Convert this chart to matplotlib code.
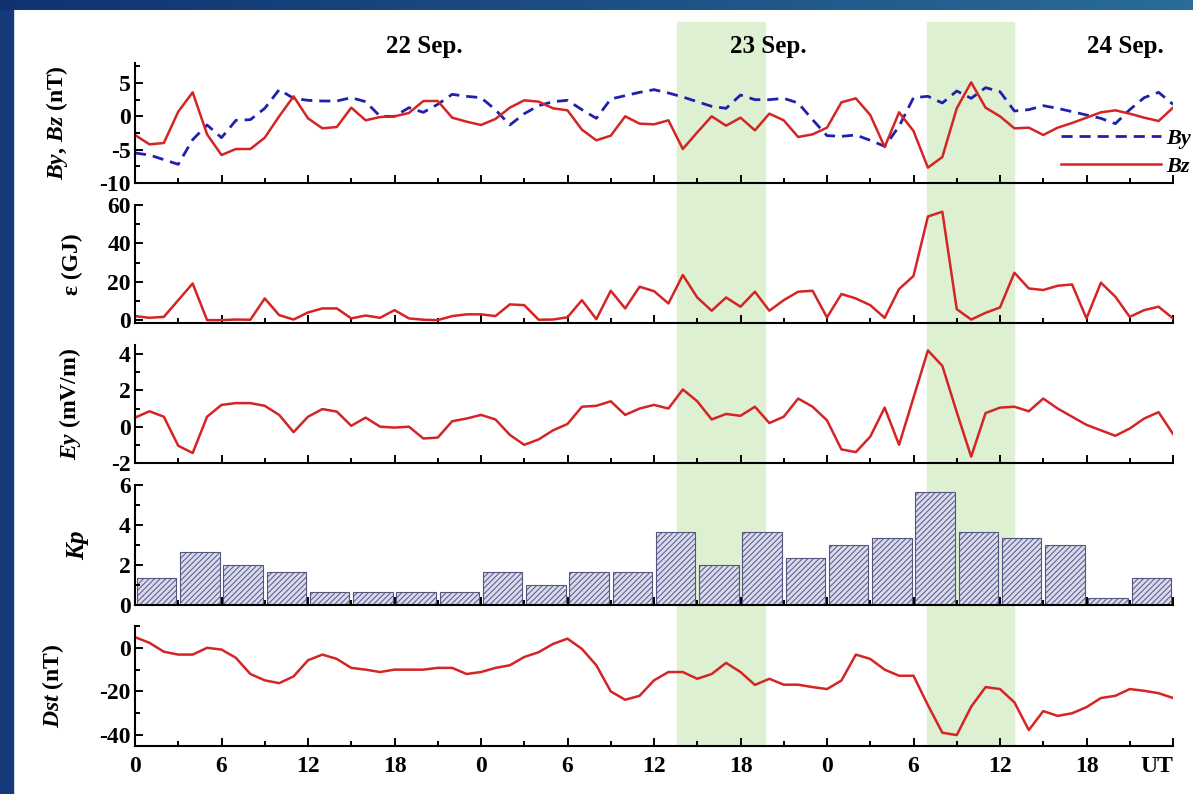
import numpy as np
import matplotlib
matplotlib.use("Agg")
import matplotlib.pyplot as plt
from matplotlib.patches import Rectangle
from matplotlib.ticker import MultipleLocator
import matplotlib.transforms as mtransforms

plt.rcParams['font.family'] = 'Liberation Serif'
plt.rcParams['font.weight'] = 'bold'
plt.rcParams['axes.labelweight'] = 'bold'
plt.rcParams['axes.unicode_minus'] = False
plt.rcParams['mathtext.fontset'] = 'custom'
plt.rcParams['mathtext.rm'] = 'Liberation Serif:bold'
plt.rcParams['mathtext.it'] = 'Liberation Serif:italic:bold'
plt.rcParams['hatch.color'] = '#7a7aa0'
plt.rcParams['hatch.linewidth'] = 0.7

# hourly time axis, 22 Sep 00 UT .. 25 Sep 00 UT
hours = np.arange(73)

by = [-5.5, -5.8, -6.5, -7.2, -3.5, -1.3, -3.2, -0.6, -0.5, 1.2,
      4.0, 2.7, 2.4, 2.3, 2.3, 2.8, 2.2, 0.0, 0.0, 1.3,
      0.6, 1.8, 3.3, 3.0, 2.8, 1.0, -1.3, 0.4, 1.6, 2.2,
      2.4, 1.0, -0.3, 2.6, 3.1, 3.6, 4.0, 3.5, 2.9, 2.2,
      1.5, 1.2, 3.2, 2.5, 2.5, 2.7, 2.0, -0.5, -2.9, -3.0,
      -2.8, -3.6, -4.5, -1.5, 2.8, 3.0, 2.0, 3.8, 2.7, 4.3,
      3.7, 0.8, 1.0, 1.6, 1.2, 0.7, 0.2, -0.3, -1.1, 1.0,
      2.8, 3.6, 1.8]

bz = [-2.8, -4.2, -4.0, 0.7, 3.6, -2.7, -5.8, -4.9, -4.9, -3.2,
      0.0, 3.0, -0.3, -1.8, -1.6, 1.3, -0.6, -0.1, 0.0, 0.5,
      2.3, 2.3, -0.2, -0.8, -1.3, -0.4, 1.3, 2.4, 2.2, 1.2,
      0.9, -2.0, -3.6, -2.9, 0.0, -1.1, -1.2, -0.6, -4.9, -2.4,
      0.0, -1.4, -0.2, -2.1, 0.4, -0.6, -3.1, -2.7, -1.7, 2.1,
      2.7, 0.2, -4.6, 0.6, -2.2, -7.7, -6.1, 1.2, 5.1, 1.3,
      0.0, -1.8, -1.7, -2.8, -1.7, -1.0, -0.2, 0.6, 0.9, 0.4,
      -0.2, -0.7, 1.3]

eps = [2.1, 1.2, 1.7, 10.4, 19.1, 0.0, 0.0, 0.3, 0.2, 11.3,
       2.6, 0.3, 4.0, 6.1, 6.1, 0.9, 2.4, 1.2, 5.2, 0.9,
       0.2, 0.0, 2.1, 3.0, 3.0, 2.1, 8.2, 7.8, 0.2, 0.3,
       1.5, 10.4, 0.5, 15.3, 6.1, 17.4, 15.1, 8.7, 23.5, 11.8,
       4.9, 11.8, 7.0, 14.8, 4.9, 10.4, 14.8, 15.3, 1.4, 13.6,
       11.3, 7.8, 1.2, 16.2, 23.0, 54.0, 56.5, 5.7, 0.3, 3.8,
       6.6, 24.7, 16.5, 15.7, 17.9, 18.6, 0.9, 19.5, 12.2, 1.7,
       5.2, 7.0, 0.9]

ey = [0.5, 0.85, 0.55, -1.05, -1.45, 0.55, 1.2, 1.3, 1.3, 1.15,
      0.65, -0.3, 0.55, 0.97, 0.83, 0.05, 0.5, 0.0, -0.05, 0.0,
      -0.65, -0.6, 0.3, 0.45, 0.65, 0.4, -0.45, -1.0, -0.7, -0.2,
      0.15, 1.1, 1.15, 1.4, 0.65, 1.0, 1.2, 1.0, 2.05, 1.4,
      0.4, 0.7, 0.6, 1.1, 0.2, 0.55, 1.55, 1.1, 0.35, -1.25,
      -1.4, -0.55, 1.05, -1.0, 1.6, 4.2, 3.35, 0.8, -1.65, 0.75,
      1.05, 1.1, 0.85, 1.55, 1.0, 0.55, 0.1, -0.2, -0.5, -0.1,
      0.45, 0.8, -0.4]

dst = [4.9, 2.3, -1.8, -3.1, -3.1, 0.0, -0.8, -4.6, -12.0, -14.9,
       -16.2, -13.1, -5.7, -3.1, -5.1, -9.2, -10.0, -11.1, -10.0, -10.0,
       -10.0, -9.2, -9.2, -12.0, -11.1, -9.2, -8.0, -4.2, -2.0, 1.8,
       4.2, -0.5, -8.0, -20.0, -23.8, -22.0, -14.9, -11.1, -11.1, -14.2,
       -12.0, -6.9, -11.1, -17.0, -14.2, -16.9, -16.9, -18.0, -18.9, -15.0,
       -3.1, -5.1, -10.0, -12.8, -12.8, -26.3, -38.9, -40.0, -27.0, -18.0,
       -18.9, -25.0, -37.7, -29.0, -31.2, -30.0, -27.2, -23.0, -22.0, -18.9,
       -19.7, -20.8, -23.0]

# 3-hourly Kp, 24 intervals
kp_start = np.arange(0, 72, 3)
kp = [1.33, 2.67, 2.0, 1.67, 0.67, 0.67, 0.67, 0.67, 1.67, 1.0, 1.67, 1.67,
      3.67, 2.0, 3.67, 2.33, 3.0, 3.33, 5.67, 3.67, 3.33, 3.0, 0.33, 1.33]

shade_spans = [(37.6, 43.7), (54.95, 61.0)]
day_labels = ['22 Sep.', '23 Sep.', '24 Sep.']
day_label_x = [20.1, 43.9, 68.7]
xtick_labels = ['0', '6', '12', '18', '0', '6', '12', '18', '0', '6', '12', '18', 'UT']

RED = '#d42424'
BLUE = '#2020aa'
FS = 17

W, H = 1193, 794
fig = plt.figure(figsize=(W / 100, H / 100), dpi=100)

# blue frame of the slide
fig.patches.append(Rectangle((0, 0), 13 / W, 1, transform=fig.transFigure,
                             color='#15397a', zorder=-2))
band = fig.add_axes([0, 1 - 10 / H, 1, 10 / H])
band.imshow(np.linspace(0, 1, 256)[None, :], aspect='auto',
            cmap=matplotlib.colors.LinearSegmentedColormap.from_list('b', ['#10336f', '#2a6c9a']))
band.axis('off')

left = 135 / W
width = (1173 - 135) / W
rows = [(63, 183), (205, 323), (345, 463), (485, 605), (626, 746)]
axes = []
for top, bot in rows:
    ax = fig.add_axes([left, 1 - bot / H, width, (bot - top) / H])
    ax.set_facecolor('none')
    axes.append(ax)

# green intervals, drawn behind all panels
for x0, x1 in shade_spans:
    fx0 = left + width * x0 / 72
    fx1 = left + width * x1 / 72
    fig.patches.append(Rectangle((fx0, 1 - 746 / H), fx1 - fx0, (746 - 22) / H,
                                 transform=fig.transFigure, color='#ddf0d2', zorder=-1))

ax1, ax2, ax3, ax4, ax5 = axes

ax1.plot(hours, by, color=BLUE, lw=2, ls=(0, (4, 2.5)), label='By')
ax1.plot(hours, bz, color=RED, lw=1.8, label='Bz')
ax1.set_ylim(-10, 8)
ax1.yaxis.set_major_locator(MultipleLocator(5))
ax1.yaxis.set_minor_locator(MultipleLocator(2.5))
ax1.set_ylabel(r'$By$, $Bz$ (nT)', fontsize=FS)
leg = ax1.legend(loc='lower right', bbox_to_anchor=(1.017, 0.05), frameon=False,
                 handlelength=4.5, handletextpad=0.2, labelspacing=0.35,
                 borderpad=0, borderaxespad=0,
                 prop=dict(family='Liberation Serif', weight='bold', style='italic', size=16))

ax2.plot(hours, eps, color=RED, lw=1.8)
ax2.set_ylim(-1.5, 60)
ax2.yaxis.set_major_locator(MultipleLocator(20))
ax2.yaxis.set_minor_locator(MultipleLocator(10))
ax2.set_ylabel('ε (GJ)', fontsize=FS)

ax3.plot(hours, ey, color=RED, lw=1.8)
ax3.set_ylim(-2, 4.5)
ax3.yaxis.set_major_locator(MultipleLocator(2))
ax3.yaxis.set_minor_locator(MultipleLocator(1))
ax3.set_ylabel(r'$Ey$ (mV/m)', fontsize=FS)

ax4.bar(kp_start + 1.5, kp, width=2.75, color='#d8daee', edgecolor='#55557f',
        linewidth=0.8, hatch='//////')
ax4.set_ylim(0, 6)
ax4.yaxis.set_major_locator(MultipleLocator(2))
ax4.yaxis.set_minor_locator(MultipleLocator(1))
ax4.set_ylabel(r'$Kp$', fontsize=FS + 1)

ax5.plot(hours, dst, color=RED, lw=1.8)
ax5.set_ylim(-45, 10)
ax5.yaxis.set_major_locator(MultipleLocator(20))
ax5.yaxis.set_minor_locator(MultipleLocator(10))
ax5.set_ylabel(r'$Dst$ (nT)', fontsize=FS)

for ax in axes:
    ax.set_xlim(0, 72)
    ax.xaxis.set_major_locator(MultipleLocator(6))
    ax.xaxis.set_minor_locator(MultipleLocator(3))
    for s in ('top', 'right'):
        ax.spines[s].set_visible(False)
    for s in ('left', 'bottom'):
        ax.spines[s].set_linewidth(1.5)
    ax.tick_params(which='both', direction='in', width=1.4, labelsize=FS)
    ax.tick_params(which='major', length=6)
    ax.tick_params(which='minor', length=3.5)
    ax.tick_params(axis='x', labelbottom=False)
    ax.tick_params(axis='y', pad=3)
    ax.yaxis.set_label_coords(-0.05, 0.5)

ax1.yaxis.set_label_coords(-0.063, 0.5)
ax4.yaxis.set_label_coords(-0.042, 0.5)
ax5.yaxis.set_label_coords(-0.066, 0.5)

ax5.tick_params(axis='x', labelbottom=True, pad=7)
ax5.set_xticks(np.arange(0, 73, 6))
ax5.set_xticklabels(xtick_labels)
ax5.get_xticklabels()[-1].set_ha('right')

trans = mtransforms.blended_transform_factory(ax1.transData, fig.transFigure)
for x, s in zip(day_label_x, day_labels):
    ax1.text(x, 1 - 47 / H, s, transform=trans, ha='center', va='center', fontsize=FS + 1)

fig.savefig('out.png', dpi=100)
